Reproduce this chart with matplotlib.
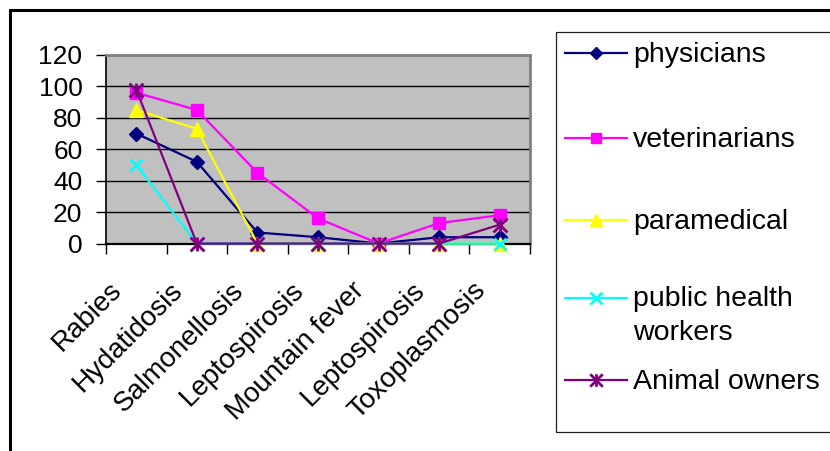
import matplotlib
matplotlib.use("Agg")
import matplotlib.pyplot as plt
from matplotlib.path import Path
from matplotlib.lines import Line2D
from matplotlib.patches import Rectangle
import matplotlib.transforms as mtransforms

plt.rcParams['font.family'] = ['Liberation Sans', 'DejaVu Sans']

# ---- data ----
diseases = ["Rabies", "Hydatidosis", "Salmonellosis", "Leptospirosis",
            "Mountain fever", "Leptospirosis", "Toxoplasmosis"]
physicians = [70, 52, 7, 4, 0, 4, 4]
veterinarians = [96, 85, 45, 16, 0, 13, 18]
paramedical = [85, 73, 0, 0, 0, 0, 0]
public_health_workers = [50, 0, 0, 0, 0, 0, 0]
animal_owners = [98, 0, 0, 0, 0, 0, 12]

series_names = ["physicians", "veterinarians", "paramedical",
                "public health\nworkers", "Animal owners"]
y_ticks = [0, 20, 40, 60, 80, 100, 120]

# asterisk marker: an "x" crossed by a vertical bar
star_path = Path(
    [(-0.5, -0.5), (0.5, 0.5), (-0.5, 0.5), (0.5, -0.5), (0, -0.5), (0, 0.5)],
    [Path.MOVETO, Path.LINETO, Path.MOVETO, Path.LINETO, Path.MOVETO, Path.LINETO])

styles = [
    dict(color="#000080", marker="D", ms=7),
    dict(color="#FF00FF", marker="s", ms=8.5),
    dict(color="#FFFF00", marker="^", ms=10),
    dict(color="#00FFFF", marker="x", ms=9, mew=2),
    dict(color="#800080", marker=star_path, ms=10, mew=2),
]
all_series = [physicians, veterinarians, paramedical,
              public_health_workers, animal_owners]

W, H = 830, 451
fig = plt.figure(figsize=(W / 100, H / 100), dpi=100)
fig.patch.set_facecolor("white")

# ---- plot area ----
ax = fig.add_axes([106 / W, 1 - 243.5 / H, 424 / W, 188.5 / H])
ax.set_facecolor("#C0C0C0")
ax.set_axisbelow(True)
x = list(range(len(diseases)))
for vals, st in zip(all_series, styles):
    ax.plot(x, vals, color=st["color"], lw=1.6, marker=st["marker"],
            ms=st["ms"], mec=st["color"], mfc=st["color"],
            mew=st.get("mew", 1), clip_on=False, zorder=3)

ax.set_xlim(-0.5, len(diseases) - 0.5)
ax.set_ylim(0, 120)
ax.set_yticks(y_ticks)
ax.set_yticklabels([str(v) for v in y_ticks], fontsize=19)
ax.yaxis.grid(True, color="black", lw=1)
ax.tick_params(axis="y", direction="out", length=7, width=1, pad=10, color="black")

ax.set_xticks(x)
ax.set_xticklabels(diseases, fontsize=20, rotation=45, ha="right", va="center",
                   rotation_mode="anchor")
ax.set_xticks([i - 0.5 for i in range(len(diseases) + 1)], minor=True)
ax.tick_params(axis="x", which="major", length=0, pad=31)
ax.tick_params(axis="x", which="minor", direction="out", length=7, width=1, color="black")
shift = mtransforms.ScaledTranslation(-18 / 100, 0, fig.dpi_scale_trans)
for lab in ax.get_xticklabels():
    lab.set_transform(lab.get_transform() + shift)

for side in ("top", "right"):
    ax.spines[side].set_color("#808080")
    ax.spines[side].set_linewidth(2)
ax.spines["left"].set_color("black")
ax.spines["left"].set_linewidth(1.2)
ax.spines["bottom"].set_color("black")
ax.spines["bottom"].set_linewidth(1.6)

# ---- frame and legend, drawn in pixel coordinates ----
lax = fig.add_axes([0, 0, 1, 1], zorder=-1)
lax.set_xlim(0, W)
lax.set_ylim(H, 0)
lax.axis("off")
lax.plot([9, W], [9.5, 9.5], color="black", lw=2.2, solid_capstyle="butt")
lax.plot([9.5, 9.5], [9, H], color="black", lw=2.2, solid_capstyle="butt")
lax.add_patch(Rectangle((555.5, 31.5), W, 400.5, fill=False,
                        edgecolor="#202020", lw=0.9))

rows = [53, 138, 220, 298, 380]
for name, st, yy in zip(series_names, styles, rows):
    lax.add_line(Line2D([565, 627], [yy, yy], color=st["color"], lw=1.6))
    lax.add_line(Line2D([596], [yy], color=st["color"], marker=st["marker"],
                        ms=st["ms"] * 0.9, mec=st["color"], mfc=st["color"],
                        mew=st.get("mew", 1)))
    lax.text(633, yy + 2, name, fontsize=20.5, va="top" if "\n" in name else "center",
             ha="left", linespacing=1.4,
             transform=lax.transData + mtransforms.ScaledTranslation(
                 0, 0.14 if "\n" in name else 0, fig.dpi_scale_trans))

fig.savefig("out.png", dpi=100)
